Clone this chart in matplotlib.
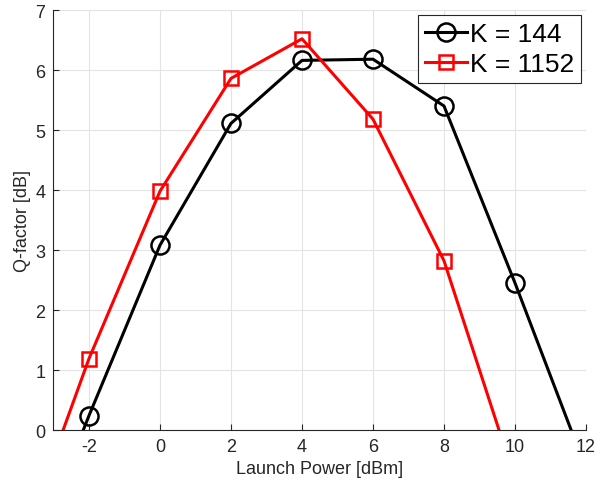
import matplotlib.pyplot as plt

# launch power [dBm]
power_144 = [-4, -2, 0, 2, 4, 6, 8, 10, 12]
q_144 = [-2.76, 0.24, 3.08, 5.11, 6.16, 6.18, 5.40, 2.45, -0.65]

power_1152 = [-4, -2, 0, 2, 4, 6, 8, 10]
q_1152 = [-2.08, 1.19, 3.98, 5.86, 6.52, 5.18, 2.82, -0.82]

xticks = [-2, 0, 2, 4, 6, 8, 10, 12]
yticks = [0, 1, 2, 3, 4, 5, 6, 7]

plt.rcParams['font.family'] = ['Liberation Sans', 'DejaVu Sans']

fig = plt.figure(figsize=(5.97, 4.89), dpi=100)
ax = fig.add_axes([0.0896, 0.1186, 0.8920, 0.8589])

ax.plot(power_144, q_144, color='black', linewidth=2.2, marker='o',
        markersize=13, markerfacecolor='none', markeredgewidth=1.8, label='K = 144')
ax.plot(power_1152, q_1152, color='red', linewidth=2.2, marker='s',
        markersize=10, markerfacecolor='none', markeredgewidth=1.8, label='K = 1152')

ax.set_xlim(-3, 12)
ax.set_ylim(0, 7)
ax.set_xticks(xticks)
ax.set_yticks(yticks)
ax.set_xticklabels([str(t) for t in xticks])
ax.grid(True, color='#e3e3e3', linewidth=0.8)
ax.set_axisbelow(True)
ax.tick_params(labelsize=13, colors='#262626', direction='in', length=4, width=0.8, pad=6)
for s in ax.spines.values():
    s.set_color('#262626')
    s.set_linewidth(0.8)
ax.spines['top'].set_visible(False)
ax.spines['right'].set_visible(False)

ax.set_xlabel('Launch Power [dBm]', fontsize=13, color='#262626', labelpad=3)
ax.set_ylabel('Q-factor [dB]', fontsize=13, color='#262626', labelpad=3)

leg = ax.legend(loc='upper right', fontsize=19, handlelength=1.6, handletextpad=0.1,
                borderpad=0.25, labelspacing=0.25, fancybox=False, framealpha=1,
                borderaxespad=0.2)
leg.get_frame().set_edgecolor('#262626')
leg.get_frame().set_linewidth(0.8)

plt.savefig('out.png', dpi=100)
